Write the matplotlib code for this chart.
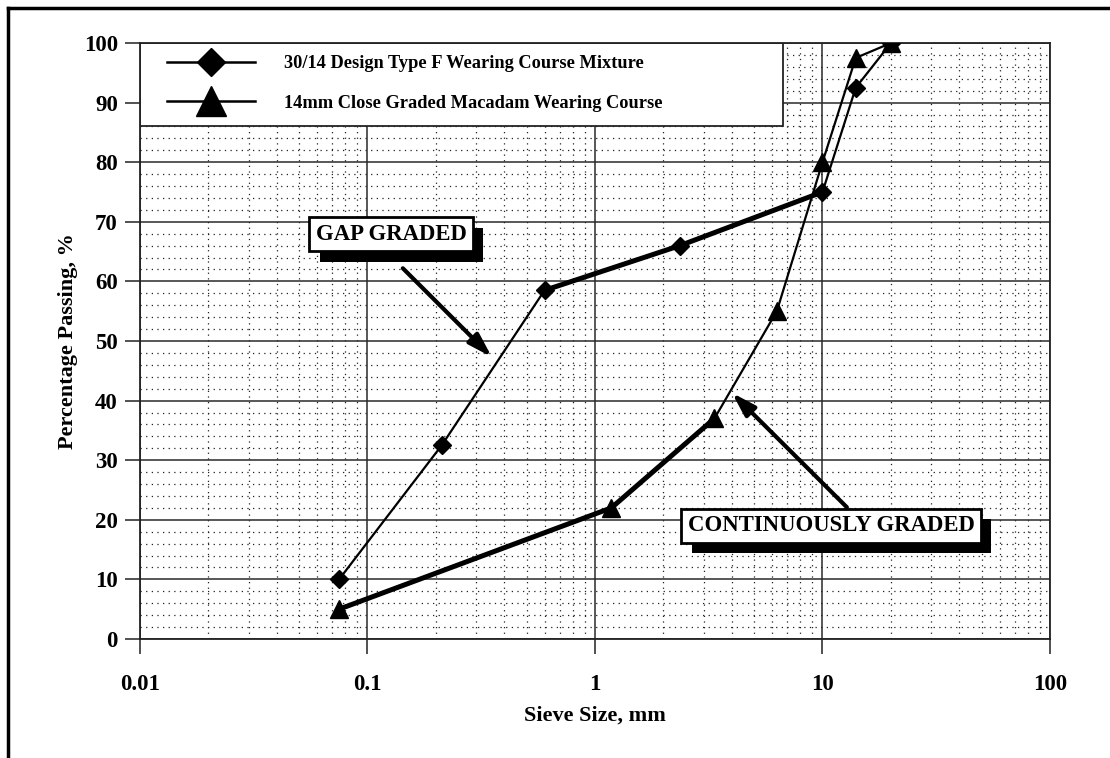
import matplotlib
matplotlib.use("Agg")
import matplotlib.pyplot as plt
from matplotlib.lines import Line2D
from matplotlib.patches import Rectangle
from matplotlib import patheffects
from matplotlib.ticker import FixedLocator, NullFormatter

# Sieve sizes (mm) and percentage passing for the two gradings
gap_sizes = [0.075, 0.212, 0.6, 2.36, 10, 14, 20]
gap_passing = [10, 32.5, 58.5, 66, 75, 92.5, 100]
cont_sizes = [0.075, 1.18, 3.35, 6.3, 10, 14, 20]
cont_passing = [5, 22, 37, 55, 80, 97.5, 100]

gap_label = "30/14 Design Type F Wearing Course Mixture"
cont_label = "14mm Close Graded Macadam Wearing Course"

x_ticks = [0.01, 0.1, 1, 10, 100]
x_tick_labels = ["0.01", "0.1", "1", "10", "100"]
y_ticks = list(range(0, 101, 10))

SERIF = ["Liberation Serif", "DejaVu Serif"]
plt.rcParams["font.family"] = SERIF
plt.rcParams["font.weight"] = "bold"

fig = plt.figure(figsize=(11.10, 7.58), dpi=100)
ax = fig.add_axes([140 / 1110, 1 - 639 / 758, 910 / 1110, 596 / 758])

ax.set_xscale("log")
ax.set_xlim(0.01, 100)
ax.set_ylim(0, 100)

# grid: solid major lines, dotted minor lines
ax.set_axisbelow(True)
ax.xaxis.set_major_locator(FixedLocator(x_ticks))
ax.set_xticklabels(x_tick_labels)
minor_x = [m * 10.0 ** e for e in range(-2, 2) for m in range(2, 10)]
ax.xaxis.set_minor_locator(FixedLocator(minor_x))
ax.xaxis.set_minor_formatter(NullFormatter())
ax.set_yticks(y_ticks)
ax.yaxis.set_minor_locator(FixedLocator([v for v in range(0, 101, 2) if v % 10]))
ax.grid(which="major", color="#2a2a2a", lw=1.1, ls="-")
ax.grid(which="minor", color="#222222", lw=0.9, ls=(0, (1, 3.5)))

ax.tick_params(which="major", direction="out", length=11, width=1.1, color="#222")
ax.tick_params(which="minor", length=0)
ax.tick_params(axis="y", pad=5, labelsize=16.5)
ax.tick_params(axis="x", pad=14, labelsize=16.5)
for lbl in ax.get_xticklabels() + ax.get_yticklabels():
    lbl.set_fontweight("bold")
for sp in ax.spines.values():
    sp.set_linewidth(1.3)
    sp.set_color("#222")

ax.set_xlabel("Sieve Size, mm", fontsize=16, fontweight="bold", labelpad=8)
ax.set_ylabel("Percentage Passing, %", fontsize=16, fontweight="bold", labelpad=4)

# white panel behind the key
ax.add_patch(Rectangle((0, 1 - 83 / 596), 643 / 910, 83 / 596, transform=ax.transAxes,
                       facecolor="white", edgecolor="#222", lw=1.3, zorder=2.5))

# series: thin full lines, then the highlighted stretches in heavy strokes
ax.plot(gap_sizes, gap_passing, color="k", lw=1.6, marker="D", ms=9.5, zorder=4)
ax.plot(gap_sizes[2:5], gap_passing[2:5], color="k", lw=3.6, zorder=4)
ax.plot(cont_sizes, cont_passing, color="k", lw=1.6, marker="^", ms=13.5, zorder=4)
ax.plot(cont_sizes[0:3], cont_passing[0:3], color="k", lw=3.6, zorder=4)

handles = [
    Line2D([], [], color="k", lw=1.8, marker="D", ms=14),
    Line2D([], [], color="k", lw=1.8, marker="^", ms=21),
]
leg = ax.legend(handles, [gap_label, cont_label], loc="upper left",
                bbox_to_anchor=(27 / 910, 1 - 12 / 596), frameon=False,
                borderpad=0, borderaxespad=0, handlelength=4.8, handletextpad=1.6,
                labelspacing=1.25, prop={"family": SERIF, "weight": "bold", "size": 13.2})
leg.set_zorder(6)

# callouts
arrow_kw = dict(arrowstyle="-|>,head_length=0.65,head_width=0.2", lw=3.0, color="k",
                mutation_scale=22, shrinkA=0, shrinkB=0)
ax.annotate("", xy=(0.352, 47.3), xytext=(0.143, 62.2), arrowprops=arrow_kw, zorder=5)
ax.annotate("", xy=(4.0, 41.3), xytext=(12.8, 22.1), arrowprops=arrow_kw, zorder=5)

shadow = [patheffects.SimplePatchShadow(offset=(7.5, -7.5), shadow_rgbFace="black", alpha=1.0),
          patheffects.Normal()]
for txt, (tx, ty) in [("GAP GRADED", (0.127, 67.9)), ("CONTINUOUSLY GRADED", (10.9, 19.0))]:
    t = ax.text(tx, ty, txt, ha="center", va="center", fontsize=16.4, fontweight="bold",
                zorder=7, bbox=dict(boxstyle="square,pad=0.28", fc="white", ec="black", lw=2))
    t.get_bbox_patch().set_path_effects(shadow)

# page frame on the left and top
fig.add_artist(Line2D([8 / 1110, 8 / 1110], [0, 1 - 8 / 758], transform=fig.transFigure,
                      color="k", lw=2.5))
fig.add_artist(Line2D([8 / 1110, 1], [1 - 8 / 758, 1 - 8 / 758], transform=fig.transFigure,
                      color="k", lw=2.5))

fig.savefig("out.png", dpi=100, facecolor="white")
